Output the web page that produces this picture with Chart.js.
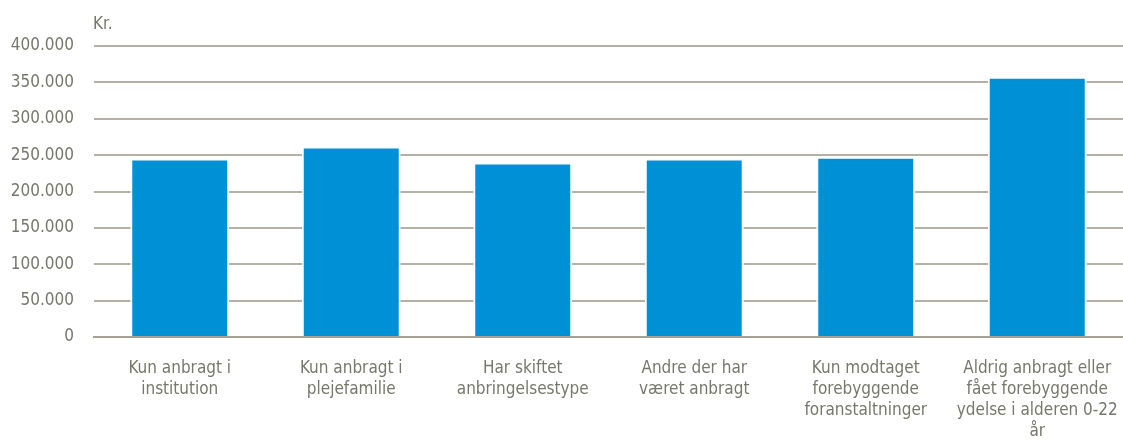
<!DOCTYPE html>
<html>
<head>
<meta charset="utf-8">
<script src="https://cdn.jsdelivr.net/npm/chart.js@4"></script>
<style>
  html, body { margin: 0; padding: 0; background: #fff; }
  #wrap { width: 1123px; height: 443px; position: relative; }
</style>
</head>
<body>
<div id="wrap"><canvas id="chart"></canvas></div>
<script>
const categories = [
  ['Kun anbragt i', 'institution'],
  ['Kun anbragt i', 'plejefamilie'],
  ['Har skiftet', 'anbringelsestype'],
  ['Andre der har', 'været anbragt'],
  ['Kun modtaget', 'forebyggende', 'foranstaltninger'],
  ['Aldrig anbragt eller', 'fået forebyggende', 'ydelse i alderen 0-22', 'år']
]
const values = [244000, 260500, 238500, 244000, 246500, 356500]
const yTicks = [0, 50000, 100000, 150000, 200000, 250000, 300000, 350000, 400000]
const unitLabel = 'Kr.'

const textColor = '#77776c'
const gridColor = '#b3b1a5'
const fontFamily = '"Liberation Sans Narrow", "Arial Narrow", "DejaVu Sans Condensed", sans-serif'

const fmt = n => n.toString().replace(/\B(?=(\d{3})+(?!\d))/g, '.')

// draws the "Kr." unit above the value axis
const unitPlugin = {
  id: 'unit',
  afterDraw(chart) {
    const {ctx, chartArea} = chart
    ctx.save()
    ctx.fillStyle = textColor
    ctx.font = '17px ' + fontFamily
    ctx.textBaseline = 'middle'
    ctx.textAlign = 'left'
    ctx.fillText(unitLabel, chartArea.left - 1, 25)
    ctx.restore()
  }
}

const chartConfig = {
  type: 'bar',
  data: {
    labels: categories,
    datasets: [{
      data: values,
      backgroundColor: '#0090d6',
      borderColor: '#ffffff',
      borderWidth: {top: 1, left: 2, right: 2, bottom: 0},
      borderSkipped: 'bottom',
      barPercentage: 0.577,
      categoryPercentage: 1
    }]
  },
  options: {
    responsive: true,
    maintainAspectRatio: false,
    animation: false,
    layout: { padding: { top: 46, right: 0, left: 0, bottom: 0 } },
    plugins: { legend: { display: false }, tooltip: { enabled: false } },
    scales: {
      x: {
        grid: { display: false },
        border: { display: true, color: '#a6a396', width: 2 },
        ticks: {
          color: textColor,
          font: { family: fontFamily, size: 17, lineHeight: 1.24 },
          padding: 13,
          maxRotation: 0,
          autoSkip: false
        },
        afterFit: scale => {
          scale.height = 106
          scale.paddingLeft = 0
          scale.paddingRight = 0
        }
      },
      y: {
        min: 0,
        max: 400000,
        afterBuildTicks: scale => { scale.ticks = yTicks.map(v => ({value: v})) },
        border: { display: false },
        grid: { color: gridColor, lineWidth: 2, drawTicks: false },
        ticks: {
          color: textColor,
          font: { family: fontFamily, size: 17 },
          padding: 20,
          callback: v => fmt(v)
        },
        afterFit: scale => {
          scale.width = 94
          scale.paddingTop = 0
          scale.paddingBottom = 0
        }
      }
    }
  },
  plugins: [unitPlugin]
}

new Chart(document.getElementById('chart'), chartConfig)
</script>
</body>
</html>
